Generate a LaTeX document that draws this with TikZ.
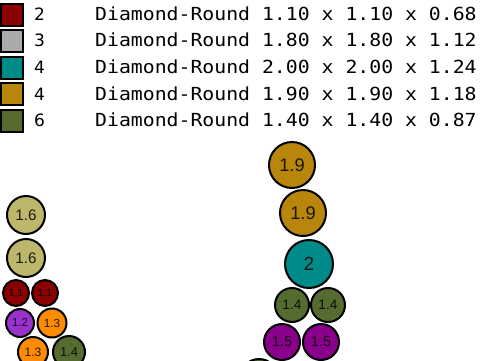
\documentclass[tikz,border=0pt]{standalone}
\usepackage{fontspec}
\newfontfamily\legendfont[FakeStretch=1.1]{DejaVu Sans Mono}
\newfontfamily\countfont{DejaVu Sans}
\newfontfamily\ballfont{Liberation Sans}
\definecolor{cRed}{RGB}{139,0,0}
\definecolor{cGray}{RGB}{170,170,170}
\definecolor{cTeal}{RGB}{0,139,139}
\definecolor{cGold}{RGB}{184,134,11}
\definecolor{cOlive}{RGB}{85,107,47}
\definecolor{cKhaki}{RGB}{189,183,107}
\definecolor{cOrchid}{RGB}{153,50,204}
\definecolor{cOrange}{RGB}{255,140,0}
\definecolor{cMagenta}{RGB}{139,0,139}
\tikzset{
  swatch/.style={draw=black, line width=2pt, minimum size=22pt, inner sep=0pt},
  ball/.style={circle, draw=black, line width=2pt, inner sep=0pt, text opacity=0.85},
}

\begin{document}
\begin{tikzpicture}[x=1pt, y=-1pt]
  \useasboundingbox (0,0) rectangle (480,360);
  \clip (0,0) rectangle (480,360);
  % legend
  \node[swatch, fill=white] (sw0) at (12,-12) {};
  \foreach \i/\c/\k/\s in {
      1/cRed/2/1.10 x 1.10 x 0.68,
      2/cGray/3/1.80 x 1.80 x 1.12,
      3/cTeal/4/2.00 x 2.00 x 1.24,
      4/cGold/4/1.90 x 1.90 x 1.18,
      5/cOlive/6/1.40 x 1.40 x 0.87}
  {
    \pgfmathsetmacro\yy{14.5+26.65*(\i-1)}
    \node[swatch, fill=\c] (sw\i) at (12,\yy) {};
    \node[anchor=base west, inner sep=0pt, font=\countfont\fontsize{17}{17}\selectfont]
      (cnt\i) at (34,\yy+5.8) {\k};
    \node[anchor=base west, inner sep=0pt, font=\legendfont\fontsize{18}{18}\selectfont]
      (txt\i) at (95,\yy+5.8) {Diamond-Round \s};
  }
  % stones
  \foreach \n/\x/\y/\r/\c/\t in {
      lk1/26/215/20/cKhaki/1.6,
      lk2/26/258/20/cKhaki/1.6,
      lr1/16/293/14/cRed/1.1,
      lr2/45/293/14/cRed/1.1,
      lp/20/323/15/cOrchid/1.2,
      lo1/52/323/15.5/cOrange/1.3,
      lo2/33/352/16/cOrange/1.3,
      lg/69/352/17/cOlive/1.4,
      rg1/292/165/24/cGold/1.9,
      rg2/303/213/24/cGold/1.9,
      rc/309/264/25/cTeal/2,
      rv1/292/305/18/cOlive/1.4,
      rv2/328/305/18/cOlive/1.4,
      rm1/282/342/19/cMagenta/1.5,
      rm2/321/342/19/cMagenta/1.5}
  {
    \pgfmathsetmacro\d{2*\r-2}
    \pgfmathsetmacro\f{0.76*\r}
    \node[ball, minimum size=\d pt, fill=\c, font=\ballfont\fontsize{\f}{\f}\selectfont]
      (\n) at (\x,\y) {\t};
  }
  \node[ball, minimum size=38pt, fill=cOlive] (rx) at (259,378) {};
\end{tikzpicture}
\end{document}
